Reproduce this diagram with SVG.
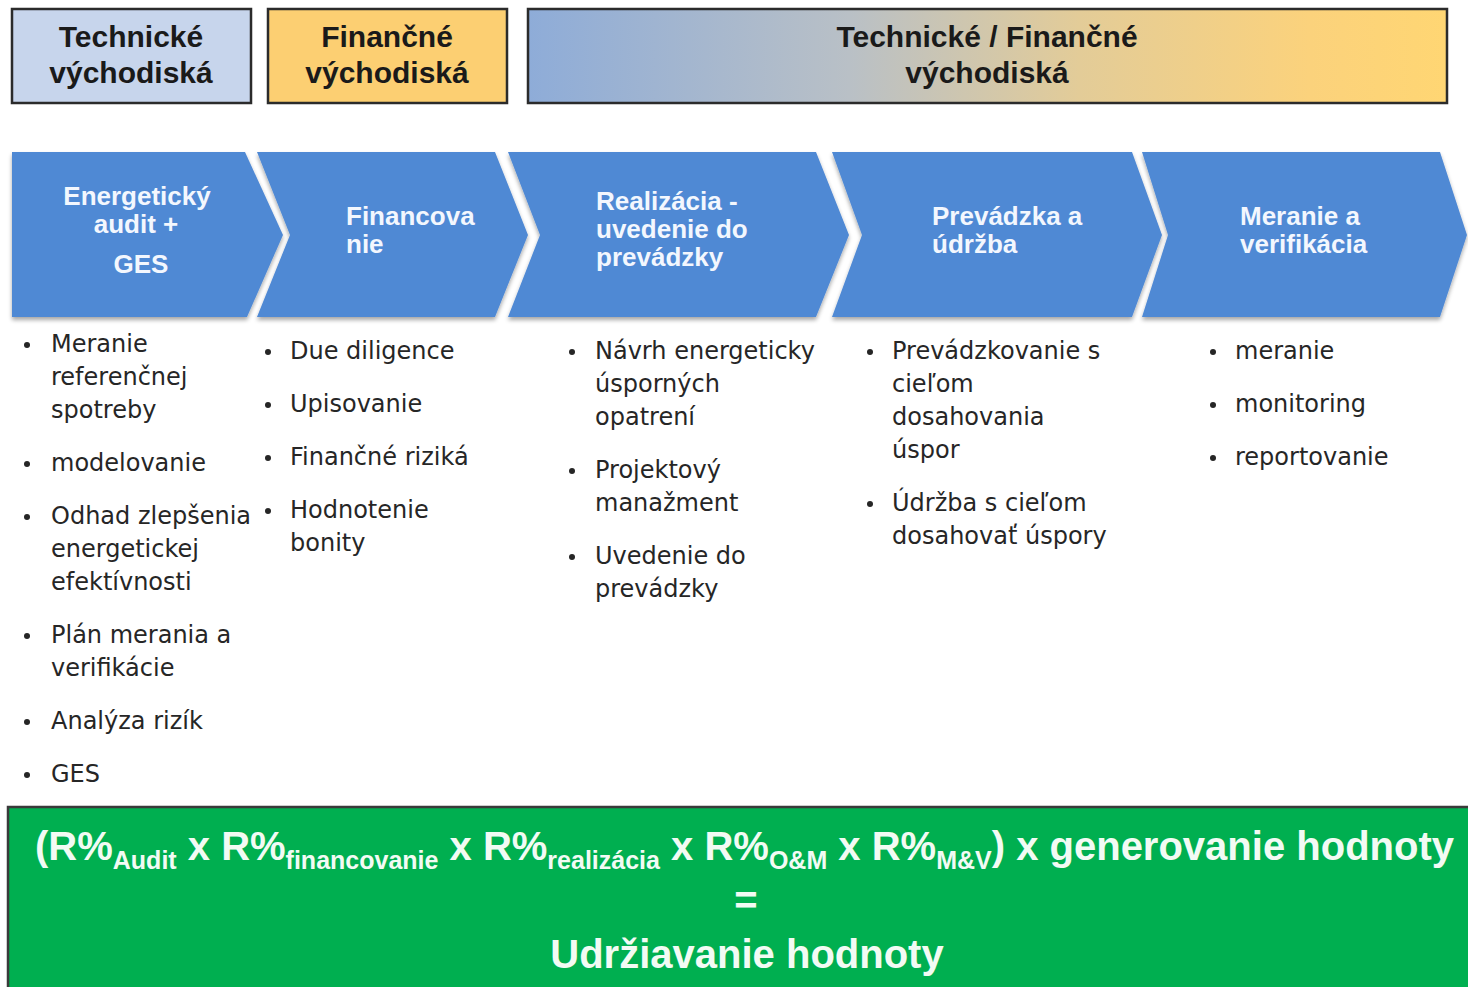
<svg xmlns="http://www.w3.org/2000/svg" width="1468" height="987" viewBox="0 0 1468 987">
<defs>
<linearGradient id="gTF" x1="0" y1="0" x2="1" y2="0">
<stop offset="0" stop-color="#8EACD8"/>
<stop offset="0.35" stop-color="#B9C0C6"/>
<stop offset="0.6" stop-color="#E3CC98"/>
<stop offset="0.85" stop-color="#FBD27C"/>
<stop offset="1" stop-color="#FFD673"/>
</linearGradient>
<filter id="sh" x="-5%" y="-10%" width="110%" height="125%">
<feGaussianBlur in="SourceAlpha" stdDeviation="2"/>
<feOffset dy="3" result="b"/>
<feComponentTransfer><feFuncA type="linear" slope="0.35"/></feComponentTransfer>
<feMerge><feMergeNode/><feMergeNode in="SourceGraphic"/></feMerge>
</filter>
<style>
.hdr{stroke:#2b2b2b;stroke-width:2.5}
.hdrt{font-family:"Liberation Sans",Arial,sans-serif;font-weight:bold;font-size:30px;fill:#1a1a1a;text-anchor:middle}
.chev{fill:#5089D4;filter:url(#sh)}
.ct{font-family:"Liberation Sans",Arial,sans-serif;font-weight:bold;font-size:26px;fill:#F3F7FE}
.bt{font-family:"DejaVu Sans",Verdana,sans-serif;font-size:24px;fill:#262626}
.bl{fill:#262626}
.ft{font-family:"Liberation Sans",Arial,sans-serif;font-weight:bold;fill:#F2FBF4}
</style>
</defs>
<rect width="1468" height="987" fill="#ffffff"/>

<g id="hdr-technicke">
<rect class="hdr" x="12" y="9" width="239" height="94" fill="#C7D5EC"/>
<text class="hdrt" x="131" y="47">Technické<tspan x="131" dy="36">východiská</tspan></text>
</g>
<g id="hdr-financne">
<rect class="hdr" x="268" y="9" width="239" height="94" fill="#FCCF72"/>
<text class="hdrt" x="387" y="47">Finančné<tspan x="387" dy="36">východiská</tspan></text>
</g>
<g id="hdr-tech-fin">
<rect class="hdr" x="528" y="9" width="919" height="94" fill="url(#gTF)"/>
<text class="hdrt" x="987" y="47">Technické / Finančné<tspan x="987" dy="36">východiská</tspan></text>
</g>

<g id="step-audit">
<path class="chev" d="M12,152 L245,152 L283,235 L247,317 L12,317 Z"/>
<text class="ct" x="137" y="205" text-anchor="middle">Energetický<tspan x="136" dy="28">audit +</tspan><tspan x="141" dy="40">GES</tspan></text>
</g>
<g id="step-financovanie">
<path class="chev" d="M257,152 L495,152 L528,235 L495,317 L257,317 L290,235 Z"/>
<text class="ct" x="346" y="225">Financova<tspan x="346" dy="28">nie</tspan></text>
</g>
<g id="step-realizacia">
<path class="chev" d="M508,152 L816,152 L849,235 L816,317 L508,317 L540,235 Z"/>
<text class="ct" x="596" y="210">Realizácia -<tspan x="596" dy="28">uvedenie do</tspan><tspan x="596" dy="28">prevádzky</tspan></text>
</g>
<g id="step-prevadzka">
<path class="chev" d="M832,152 L1132,152 L1162,235 L1132,317 L832,317 L862,235 Z"/>
<text class="ct" x="932" y="225">Prevádzka a<tspan x="932" dy="28">údržba</tspan></text>
</g>
<g id="step-meranie">
<path class="chev" d="M1142,152 L1440,152 L1467,235 L1440,317 L1142,317 L1168,235 Z"/>
<text class="ct" x="1240" y="225">Meranie a<tspan x="1240" dy="28">verifikácia</tspan></text>
</g>

<g id="list-audit">
<circle class="bl" cx="27" cy="345" r="3"/>
<text class="bt" x="51" y="352">Meranie<tspan x="51" dy="33">referenčnej</tspan><tspan x="51" dy="33">spotreby</tspan></text>
<circle class="bl" cx="27" cy="464" r="3"/>
<text class="bt" x="51" y="471">modelovanie</text>
<circle class="bl" cx="27" cy="517" r="3"/>
<text class="bt" x="51" y="524">Odhad zlepšenia<tspan x="51" dy="33">energetickej</tspan><tspan x="51" dy="33">efektívnosti</tspan></text>
<circle class="bl" cx="27" cy="636" r="3"/>
<text class="bt" x="51" y="643">Plán merania a<tspan x="51" dy="33">verifikácie</tspan></text>
<circle class="bl" cx="27" cy="722" r="3"/>
<text class="bt" x="51" y="729">Analýza rizík</text>
<circle class="bl" cx="27" cy="775" r="3"/>
<text class="bt" x="51" y="782">GES</text>
</g>

<g id="list-financovanie">
<circle class="bl" cx="268" cy="352" r="3"/>
<text class="bt" x="290" y="359">Due diligence</text>
<circle class="bl" cx="268" cy="405" r="3"/>
<text class="bt" x="290" y="412">Upisovanie</text>
<circle class="bl" cx="268" cy="458" r="3"/>
<text class="bt" x="290" y="465">Finančné riziká</text>
<circle class="bl" cx="268" cy="511" r="3"/>
<text class="bt" x="290" y="518">Hodnotenie<tspan x="290" dy="33">bonity</tspan></text>
</g>

<g id="list-realizacia">
<circle class="bl" cx="572" cy="352" r="3"/>
<text class="bt" x="595" y="359">Návrh energeticky<tspan x="595" dy="33">úsporných</tspan><tspan x="595" dy="33">opatrení</tspan></text>
<circle class="bl" cx="572" cy="471" r="3"/>
<text class="bt" x="595" y="478">Projektový<tspan x="595" dy="33">manažment</tspan></text>
<circle class="bl" cx="572" cy="557" r="3"/>
<text class="bt" x="595" y="564">Uvedenie do<tspan x="595" dy="33">prevádzky</tspan></text>
</g>

<g id="list-prevadzka">
<circle class="bl" cx="870" cy="352" r="3"/>
<text class="bt" x="892" y="359">Prevádzkovanie s<tspan x="892" dy="33">cieľom</tspan><tspan x="892" dy="33">dosahovania</tspan><tspan x="892" dy="33">úspor</tspan></text>
<circle class="bl" cx="870" cy="504" r="3"/>
<text class="bt" x="892" y="511">Údržba s cieľom<tspan x="892" dy="33">dosahovať úspory</tspan></text>
</g>

<g id="list-meranie">
<circle class="bl" cx="1213" cy="352" r="3"/>
<text class="bt" x="1235" y="359">meranie</text>
<circle class="bl" cx="1213" cy="405" r="3"/>
<text class="bt" x="1235" y="412">monitoring</text>
<circle class="bl" cx="1213" cy="458" r="3"/>
<text class="bt" x="1235" y="465">reportovanie</text>
</g>

<g id="formula">
<rect x="8" y="807" width="1470" height="190" fill="#00AF50" stroke="#3a3a3a" stroke-width="2.5"/>
<text class="ft" x="35" y="860" font-size="40">(R%<tspan font-size="25" dy="9">Audit</tspan><tspan dy="-9"> x R%</tspan><tspan font-size="25" dy="9">financovanie</tspan><tspan dy="-9"> x R%</tspan><tspan font-size="25" dy="9">realizácia</tspan><tspan dy="-9"> x R%</tspan><tspan font-size="25" dy="9">O&amp;M</tspan><tspan dy="-9"> x R%</tspan><tspan font-size="25" dy="9">M&amp;V</tspan><tspan dy="-9">) x generovanie hodnoty</tspan></text>
<text class="ft" x="746" y="914" font-size="40" text-anchor="middle">=</text>
<text class="ft" x="747" y="968" font-size="40" text-anchor="middle">Udržiavanie hodnoty</text>
</g>
</svg>
